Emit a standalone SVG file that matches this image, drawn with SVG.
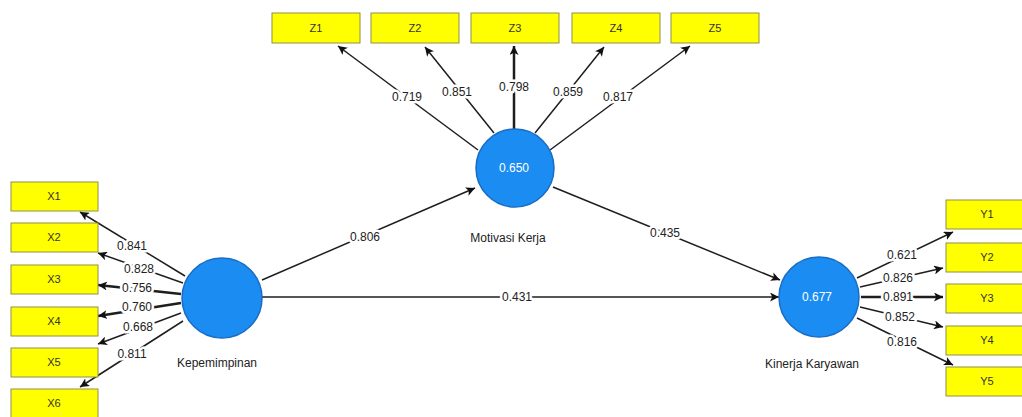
<svg xmlns="http://www.w3.org/2000/svg" width="1022" height="417" viewBox="0 0 1022 417">
<style>
.bg{fill:#ffffff}
.ind rect{fill:#ffff00;stroke:#8f8f4a;stroke-width:1}
.ind text{font-family:"Liberation Sans",Arial,sans-serif;font-size:11px;fill:#333;text-anchor:middle;dominant-baseline:central}
.lat circle{fill:#1b8cf2;stroke:#1a6cc4;stroke-width:1.5}
.lat .val{font-family:"Liberation Sans",Arial,sans-serif;font-size:12px;fill:#ffffff;text-anchor:middle;dominant-baseline:central}
.lat .name{font-family:"Liberation Sans",Arial,sans-serif;font-size:12px;fill:#222;text-anchor:middle;dominant-baseline:central}
.edge line{stroke:#1e1e1e;stroke-width:1.5;marker-end:url(#ah)}
.edge line.thick{stroke-width:2.5}
.edge text{font-family:"Liberation Sans",Arial,sans-serif;font-size:12px;fill:#222;text-anchor:middle;dominant-baseline:central;paint-order:stroke;stroke:#ffffff;stroke-width:5px;stroke-linejoin:round}
</style>
<defs>
<marker id="ah" viewBox="0 0 10 10" refX="10" refY="5" markerWidth="9" markerHeight="9" markerUnits="userSpaceOnUse" orient="auto">
<path d="M0,0 L10,5 L0,10 L2.5,5 z" fill="#111"/>
</marker>
</defs>
<rect class="bg" x="0" y="0" width="1022" height="417"/>
<g id="connectors" class="edge">
<line x1="478" y1="150" x2="338" y2="46"/>
<line x1="494" y1="133" x2="425" y2="47"/>
<line class="thick" x1="514" y1="129" x2="514" y2="46"/>
<line x1="535" y1="133" x2="604" y2="47"/>
<line x1="550" y1="150" x2="690" y2="46"/>
<line x1="185" y1="276" x2="80" y2="212"/>
<line x1="183" y1="283" x2="98" y2="253"/>
<line class="thick" x1="181" y1="294" x2="98" y2="285"/>
<line class="thick" x1="181" y1="303" x2="98" y2="316"/>
<line x1="181" y1="313" x2="98" y2="344"/>
<line x1="183" y1="321" x2="80" y2="387"/>
<line x1="857" y1="278" x2="953" y2="232"/>
<line x1="860" y1="287" x2="943" y2="268"/>
<line class="thick" x1="861" y1="297" x2="943" y2="297"/>
<line x1="860" y1="307" x2="943" y2="327"/>
<line x1="857" y1="318" x2="953" y2="365"/>
<line x1="262" y1="280" x2="475" y2="188"/>
<line x1="553" y1="187" x2="780" y2="280"/>
<line x1="262" y1="297" x2="779" y2="297"/>
<text x="407" y="97">0.719</text>
<text x="457" y="92">0.851</text>
<text x="514" y="87">0.798</text>
<text x="568" y="92">0.859</text>
<text x="618" y="97">0.817</text>
<text x="132" y="246">0.841</text>
<text x="139" y="269">0.828</text>
<text x="137" y="288">0.756</text>
<text x="137" y="307">0.760</text>
<text x="138" y="327">0.668</text>
<text x="132" y="354">0.811</text>
<text x="902" y="255">0.621</text>
<text x="898" y="278">0.826</text>
<text x="898" y="297">0.891</text>
<text x="900" y="317">0.852</text>
<text x="902" y="342">0.816</text>
<text x="365" y="237">0.806</text>
<text x="665" y="233">0.435</text>
<text x="517" y="297">0.431</text>
</g>
<g id="Z1" class="ind"><rect x="272" y="13" width="88" height="30"/><text x="316" y="28">Z1</text></g>
<g id="Z2" class="ind"><rect x="371" y="13" width="88" height="30"/><text x="415" y="28">Z2</text></g>
<g id="Z3" class="ind"><rect x="471" y="13" width="88" height="30"/><text x="515" y="28">Z3</text></g>
<g id="Z4" class="ind"><rect x="572" y="13" width="88" height="30"/><text x="616" y="28">Z4</text></g>
<g id="Z5" class="ind"><rect x="671" y="13" width="88" height="30"/><text x="715" y="28">Z5</text></g>
<g id="X1" class="ind"><rect x="11" y="182" width="87" height="29"/><text x="54" y="196">X1</text></g>
<g id="X2" class="ind"><rect x="11" y="223" width="87" height="29"/><text x="54" y="237">X2</text></g>
<g id="X3" class="ind"><rect x="11" y="265" width="87" height="29"/><text x="54" y="279">X3</text></g>
<g id="X4" class="ind"><rect x="11" y="307" width="87" height="29"/><text x="54" y="321">X4</text></g>
<g id="X5" class="ind"><rect x="11" y="348" width="87" height="29"/><text x="54" y="362">X5</text></g>
<g id="X6" class="ind"><rect x="11" y="389" width="87" height="29"/><text x="54" y="403">X6</text></g>
<g id="Y1" class="ind"><rect x="946" y="200" width="82" height="29"/><text x="987" y="214">Y1</text></g>
<g id="Y2" class="ind"><rect x="946" y="243" width="82" height="29"/><text x="987" y="257">Y2</text></g>
<g id="Y3" class="ind"><rect x="946" y="284" width="82" height="29"/><text x="987" y="298">Y3</text></g>
<g id="Y4" class="ind"><rect x="946" y="326" width="82" height="29"/><text x="987" y="340">Y4</text></g>
<g id="Y5" class="ind"><rect x="946" y="367" width="82" height="29"/><text x="987" y="381">Y5</text></g>
<g id="MotivasiKerja" class="lat"><circle cx="515" cy="168" r="39"/><text class="val" x="514" y="168">0.650</text><text class="name" x="508" y="238">Motivasi Kerja</text></g>
<g id="Kepemimpinan" class="lat"><circle cx="222" cy="298" r="40"/><text class="name" x="217" y="363">Kepemimpinan</text></g>
<g id="KinerjaKaryawan" class="lat"><circle cx="819" cy="297" r="40"/><text class="val" x="817" y="297">0.677</text><text class="name" x="812" y="364">Kinerja Karyawan</text></g>
</svg>
